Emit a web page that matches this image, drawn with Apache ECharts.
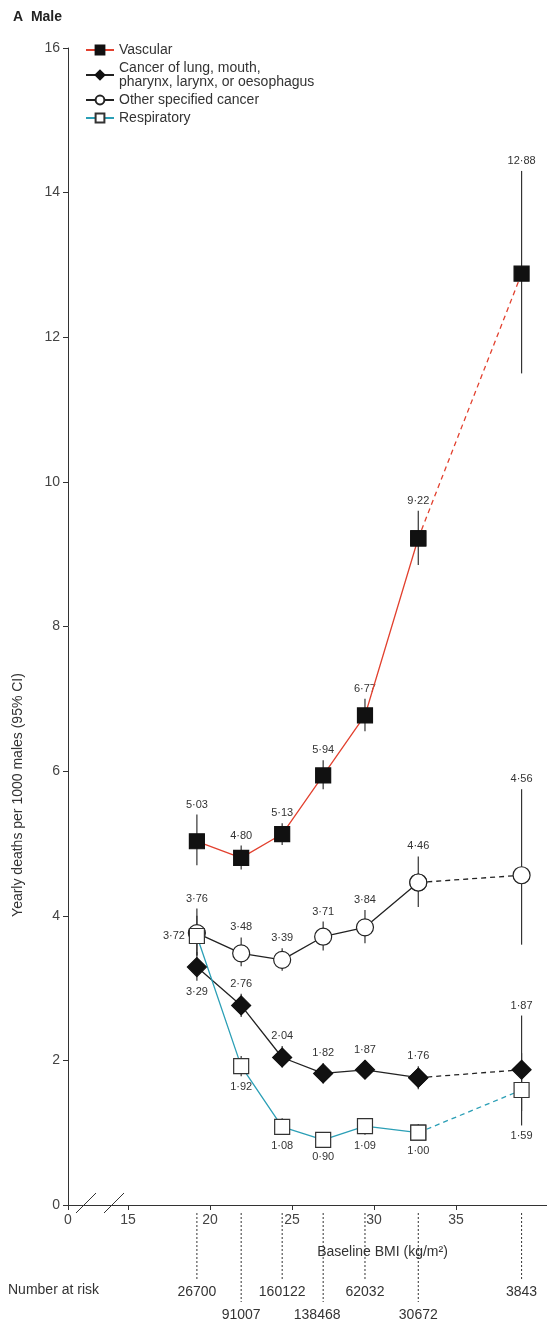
<!DOCTYPE html>
<html><head><meta charset="utf-8">
<style>html,body{margin:0;padding:0;background:#fff}#main{width:547px;height:1326px}</style>
</head><body>
<div id="main"></div>
<script src="https://cdn.jsdelivr.net/npm/echarts@6.0.0/dist/echarts.min.js"></script>
<script>
var bmi = [19.2, 21.9, 24.4, 26.9, 29.45, 32.7, 39.0];
var vascular = [5.03, 4.80, 5.13, 5.94, 6.77, 9.22, 12.88];
var vascularLo = [4.70, 4.64, 4.98, 5.75, 6.55, 8.85, 11.5];
var vascularHi = [5.40, 4.97, 5.28, 6.15, 7.00, 9.60, 14.3];
var lung = [3.29, 2.76, 2.04, 1.82, 1.87, 1.76, 1.87];
var lungLo = [3.10, 2.60, 1.90, 1.68, 1.75, 1.60, 1.30];
var lungHi = [3.50, 2.92, 2.20, 1.96, 2.00, 1.92, 2.62];
var other = [3.76, 3.48, 3.39, 3.71, 3.84, 4.46, 4.56];
var otherLo = [3.45, 3.30, 3.24, 3.52, 3.62, 4.12, 3.60];
var otherHi = [4.10, 3.70, 3.55, 3.92, 4.08, 4.82, 5.75];
var resp = [3.72, 1.92, 1.08, 0.90, 1.09, 1.00, 1.59];
var respLo = [3.45, 1.78, 0.97, 0.82, 0.97, 0.90, 1.10];
var respHi = [4.00, 2.06, 1.20, 0.98, 1.20, 1.12, 2.10];
var atRisk = ['26700', '91007', '160122', '138468', '62032', '30672', '3843'];
var xTicks = [11.34, 15, 20, 25, 30, 35];

function fmt(v) { return v.toFixed(2).replace('.', '\u00b7'); }
function pts(arr, from, to) {
  var out = [];
  for (var i = from; i <= to; i++) out.push([bmi[i], arr[i]]);
  return out;
}
// label placement: 'top' above CI, 'bottom' below CI, 'left' left of point
function bars(val, lo, hi, pos) {
  return val.map(function (v, i) { return [bmi[i], lo[i], hi[i], v, pos[i]]; });
}
var barData = []
  .concat(bars(vascular, vascularLo, vascularHi, ['top','top','top','top','top','top','top']))
  .concat(bars(other, otherLo, otherHi, ['top','top','top','top','top','top','top']))
  .concat(bars(lung, lungLo, lungHi, ['bottom','top','top','top','top','top','top']))
  .concat(bars(resp, respLo, respHi, ['left','bottom','bottom','bottom','bottom','bottom','bottom']));

var font = 'Liberation Sans Narrow, Arial Narrow, sans-serif';
var red = '#e2412f', teal = '#2b9fb6';

function lineSeries(name, arr, sym, size, lineColor, itemColor, border) {
  return [{
    name: name, type: 'line', data: pts(arr, 0, 5), symbol: sym, symbolSize: size,
    lineStyle: { color: lineColor, width: 1.3 }, z: 3,
    itemStyle: { color: itemColor, borderColor: border, borderWidth: 1.2 }
  }, {
    name: name + ' ext', type: 'line', data: pts(arr, 5, 6), symbol: sym, symbolSize: size,
    lineStyle: { color: lineColor, width: 1.3, type: [5, 4] }, z: 3,
    itemStyle: { color: itemColor, borderColor: border, borderWidth: 1.2 }
  }];
}

var chart = echarts.init(document.getElementById('main'));
var option = {
  animation: false,
  textStyle: { fontFamily: font },
  title: { text: 'A  Male', left: 8, top: 5, textStyle: { fontSize: 14, fontWeight: 'bold', color: '#222', fontFamily: font } },
  legend: {
    left: 80, top: 38, orient: 'vertical', itemGap: 4, itemWidth: 28, itemHeight: 11,
    textStyle: { fontSize: 14, color: '#333', fontFamily: font },
    data: ['Vascular', 'Cancer of lung, mouth,\npharynx, larynx, or oesophagus', 'Other specified cancer', 'Respiratory']
  },
  grid: { left: 68, right: 0, top: 48, bottom: 121 },
  xAxis: {
    type: 'value', min: 11.34, max: 40.55,
    axisLine: { lineStyle: { color: '#333' } },
    axisTick: { length: 5, customValues: xTicks },
    axisLabel: { customValues: xTicks, fontSize: 14, color: '#444', formatter: function (v) { return v < 12 ? '0' : v; } },
    splitLine: { show: false },
    name: 'Baseline BMI (kg/m\u00b2)', nameLocation: 'middle', nameGap: 40,
    nameTextStyle: { fontSize: 14, color: '#333', padding: [0, 0, 0, 150] }
  },
  yAxis: {
    type: 'value', min: 0, max: 16, interval: 2,
    axisLine: { show: true, lineStyle: { color: '#333' } },
    axisTick: { show: true, length: 5 },
    axisLabel: { fontSize: 14, color: '#444' },
    splitLine: { show: false }
  },
  series: []
    .concat(lineSeries('Vascular', vascular, 'rect', 15, red, '#111', '#111'))
    .concat(lineSeries('Cancer of lung, mouth,\npharynx, larynx, or oesophagus', lung, 'diamond', 19, '#222', '#111', '#111'))
    .concat(lineSeries('Other specified cancer', other, 'circle', 17, '#222', '#fff', '#222'))
    .concat(lineSeries('Respiratory', resp, 'rect', 15, teal, '#fff', '#333'))
    .concat([{
      type: 'custom', z: 2, data: barData,
      renderItem: function (params, api) {
        var top = api.coord([api.value(0), api.value(2)]);
        var bot = api.coord([api.value(0), api.value(1)]);
        var mid = api.coord([api.value(0), api.value(3)]);
        var pos = barData[params.dataIndex][4];
        var tx = top[0], ty = top[1] - 10, align = 'center';
        if (pos === 'bottom') ty = bot[1] + 11;
        if (pos === 'left') { tx = mid[0] - 12; ty = mid[1]; align = 'right'; }
        return { type: 'group', children: [
          { type: 'line', shape: { x1: top[0], y1: top[1], x2: bot[0], y2: bot[1] }, style: { stroke: '#333', lineWidth: 1.2 } },
          { type: 'text', style: { x: tx, y: ty, text: fmt(api.value(3)), fill: '#333', fontSize: 11, fontFamily: font, align: align, verticalAlign: 'middle' } }
        ]};
      }
    }])
};
chart.setOption(option);

var g = [];
var base = chart.convertToPixel({ gridIndex: 0 }, [11.34, 0]);
g.push({ type: 'text', x: 18, y: 795, rotation: Math.PI / 2, style: { text: 'Yearly deaths per 1000 males (95% CI)', fontSize: 14, fill: '#333', fontFamily: font, align: 'center', verticalAlign: 'middle' } });
// broken axis marks
g.push({ type: 'line', shape: { x1: 76, y1: base[1] + 8, x2: 96, y2: base[1] - 12 }, style: { stroke: '#333', lineWidth: 1 } });
g.push({ type: 'line', shape: { x1: 104, y1: base[1] + 8, x2: 124, y2: base[1] - 12 }, style: { stroke: '#333', lineWidth: 1 } });
g.push({ type: 'text', left: 8, top: 1283, style: { text: 'Number at risk', fontSize: 14, fill: '#333', fontFamily: font } });
bmi.forEach(function (b, i) {
  var p = chart.convertToPixel({ gridIndex: 0 }, [b, 0]);
  var low = (i === 1 || i === 3 || i === 5);
  g.push({ type: 'line', shape: { x1: p[0], y1: p[1] + 8, x2: p[0], y2: low ? 1302 : 1280 }, style: { stroke: '#333', lineWidth: 1, lineDash: [2, 2] } });
  g.push({ type: 'text', x: p[0] + (i === 3 ? -6 : 0), y: low ? 1315 : 1292, style: { text: atRisk[i], fontSize: 14, fill: '#333', fontFamily: font, align: 'center', verticalAlign: 'middle' } });
});
chart.setOption({ graphic: g });
</script>
</body></html>
